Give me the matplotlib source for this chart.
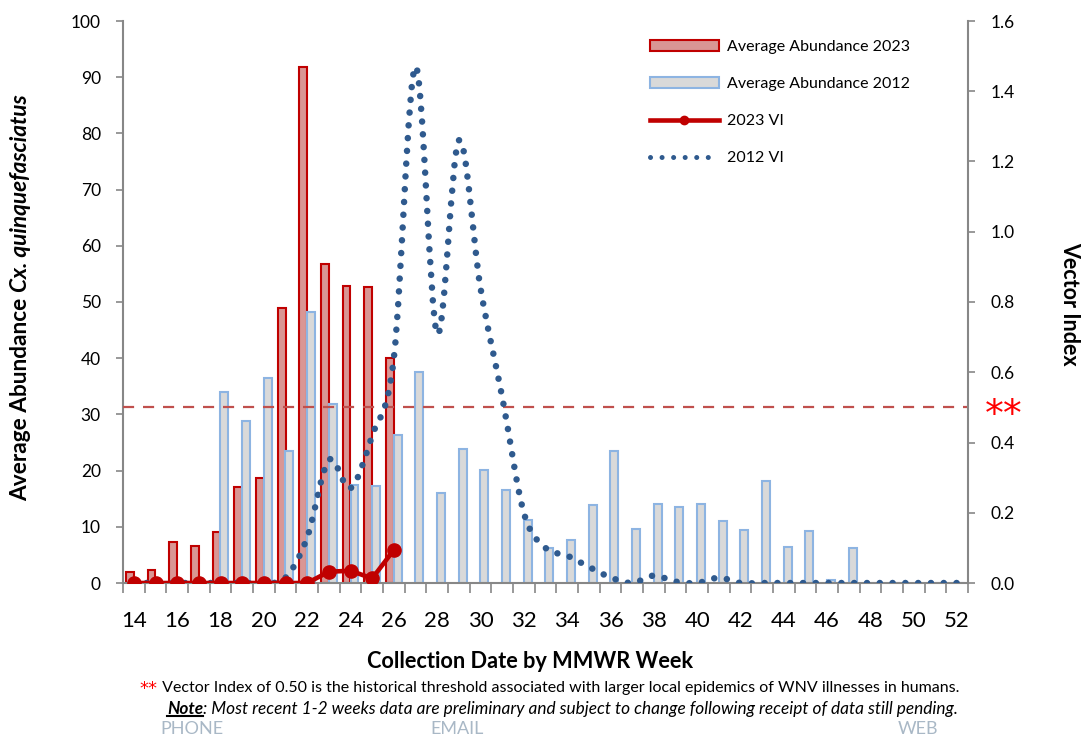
import numpy as np
import matplotlib
matplotlib.use("Agg")
import matplotlib.pyplot as plt
from matplotlib.path import Path
from matplotlib.patches import PathPatch, Patch
from matplotlib.lines import Line2D

plt.rcParams['font.family'] = ['Lato', 'DejaVu Sans']

# ---- data ----
weeks = list(range(14, 53))
weeks_2023 = list(range(14, 27))

abund_2023 = [2.0, 2.4, 7.3, 6.5, 9.0, 17.1, 18.7, 48.9, 91.8, 56.7, 52.8, 52.6, 40.1]

abund_2012 = [0, 0, 0, 0, 33.9, 28.9, 36.4, 23.4, 48.3, 31.8, 17.4, 17.3, 26.3,
              37.5, 16.0, 23.9, 20.1, 16.5, 11.2, 6.2, 7.7, 13.8, 23.5, 9.6, 14.0,
              13.6, 14.1, 11.1, 9.4, 18.2, 6.4, 9.3, 0.5, 6.3, 0, 0, 0, 0, 0]

vi_2023 = [0, 0, 0, 0, 0, 0, 0, 0, 0, 0.032, 0.035, 0.013, 0.094]

vi_2012 = [0, 0, 0, 0, 0, 0, 0, 0.015, 0.13, 0.35, 0.27, 0.42, 0.64,
           1.47, 0.71, 1.26, 0.84, 0.53, 0.20, 0.10, 0.078, 0.046, 0.016, 0.0, 0.021,
           0.004, 0.0, 0.015, 0.0, 0, 0, 0, 0, 0, 0, 0, 0, 0, 0]

threshold = 0.50
even_weeks = list(range(14, 53, 2))

RED = '#C00000'
RED_FILL = '#D99694'
BLUE_EDGE = '#8DB4E2'
GREY_FILL = '#D9D9D9'
DOT_BLUE = '#2F5A8E'
AXIS_GREY = '#878787'


def smooth_path(x, y, k=1.0 / 6):
    # Excel style "smoothed line": cubic bezier segments through the points
    n = len(x)
    verts = [(x[0], y[0])]
    codes = [Path.MOVETO]
    for i in range(n - 1):
        xp, yp = x[max(i - 1, 0)], y[max(i - 1, 0)]
        xn, yn = x[min(i + 2, n - 1)], y[min(i + 2, n - 1)]
        c1 = (x[i] + (x[i + 1] - xp) * k, y[i] + (y[i + 1] - yp) * k)
        c2 = (x[i + 1] - (xn - x[i]) * k, y[i + 1] - (yn - y[i]) * k)
        verts += [c1, c2, (x[i + 1], y[i + 1])]
        codes += [Path.CURVE4] * 3
    return Path(verts, codes)


fig = plt.figure(figsize=(10.84, 7.37), dpi=100)
ax = fig.add_axes([123 / 1084, 1 - 583 / 737, (968 - 123) / 1084, (583 - 21) / 737])
ax2 = ax.twinx()

bw = 0.36
x23 = np.array(weeks_2023, dtype=float)
x12 = np.array(weeks, dtype=float)
ax.bar(x23 - bw / 2, abund_2023, width=bw, color=RED_FILL, edgecolor=RED, linewidth=1.5, zorder=2)
ax.bar(x12 + bw / 2, abund_2012, width=bw, color=GREY_FILL, edgecolor=BLUE_EDGE, linewidth=1.5, zorder=2)

ax.set_xlim(13.5, 52.5)
ax.set_ylim(0, 100)
ax2.set_ylim(0, 1.6)

# 2012 VI dotted smooth curve
patch = PathPatch(smooth_path(x12, vi_2012), fill=False, edgecolor=DOT_BLUE,
                  linewidth=4.7, linestyle=(0, (0.01, 1.95)), capstyle='round', zorder=3)
ax2.add_patch(patch)

# threshold
ax2.axhline(threshold, color='#C0504D', linewidth=1.6, dashes=(5, 4), zorder=2)

# 2023 VI
ax2.plot(x23, vi_2023, color=RED, linewidth=3.3, marker='o', markersize=9.5,
         solid_capstyle='round', zorder=4)

# axes styling
for a in (ax, ax2):
    a.spines['top'].set_visible(False)
ax.spines['right'].set_visible(False)
ax2.spines['left'].set_visible(False)
ax2.spines['bottom'].set_visible(False)
for s in ('left', 'bottom'):
    ax.spines[s].set_color(AXIS_GREY)
    ax.spines[s].set_linewidth(1.5)
ax2.spines['right'].set_color(AXIS_GREY)
ax2.spines['right'].set_linewidth(1.5)

ax.set_yticks(np.arange(0, 101, 10))
ax.tick_params(axis='y', direction='out', length=5, width=1.2, color=AXIS_GREY,
               labelsize=12.5, pad=11)
ax2.set_yticks(np.arange(0, 1.61, 0.2))
ax2.set_yticklabels([f"{v:.1f}" for v in np.arange(0, 1.61, 0.2)])
ax2.tick_params(axis='y', direction='out', length=5, width=1.2, color=AXIS_GREY,
                labelsize=12.5, pad=11)

ax.set_xticks(even_weeks)
ax.set_xticklabels([str(w) for w in even_weeks])
ax.set_xticks(np.arange(13.5, 53, 1), minor=True)
ax.tick_params(axis='x', which='major', length=0, labelsize=16, pad=20)
ax.tick_params(axis='x', which='minor', direction='out', length=7, width=1.2, color=AXIS_GREY)

# legend
handles = [
    Patch(facecolor=RED_FILL, edgecolor=RED, linewidth=1.5),
    Patch(facecolor=GREY_FILL, edgecolor=BLUE_EDGE, linewidth=1.5),
    Line2D([], [], color=RED, linewidth=3.3, marker='o', markersize=6),
    Line2D([], [], color=DOT_BLUE, linewidth=3.6, linestyle=(0, (0.01, 2.3)),
           dash_capstyle='round'),
]
labels = ['Average Abundance 2023', 'Average Abundance 2012', '2023 VI', '2012 VI']
ax2.legend(handles, labels, loc='upper left', bbox_to_anchor=(650 / 1084, 1 - 40 / 737),
           bbox_transform=fig.transFigure, frameon=False, fontsize=11.5,
           handlelength=4.3, handleheight=0.65, labelspacing=1.45, handletextpad=0.5,
           borderaxespad=0, borderpad=0)

# '**' next to threshold on right axis
fig.text(1004 / 1084, 1 - 416 / 737, '**', color='#FF0000', fontsize=27,
         family='DejaVu Sans', ha='center', va='center')

# axis titles
fig.text(1070 / 1084, 1 - 304 / 737, 'Vector Index', rotation=270, fontsize=15.5,
         fontweight='bold', ha='center', va='center')
fig.text(530 / 1084, 1 - 662 / 737, 'Collection Date by MMWR Week', fontsize=15.7,
         fontweight='bold', ha='center', va='center')

fig.canvas.draw()
r = fig.canvas.get_renderer()
inv = fig.transFigure.inverted()

t1 = fig.text(21 / 1084, 1 - 501 / 737, 'Average Abundance ', rotation=90, fontsize=16.3,
              fontweight='bold', ha='center', va='bottom')
bb = t1.get_window_extent(r)
top_y = inv.transform((0, bb.y1))[1]
fig.text(21 / 1084, top_y, 'Cx. quinquefasciatus', rotation=90, fontsize=16.3,
         fontweight='bold', style='italic', ha='center', va='bottom')

# footnotes
fig.text(139 / 1084, 1 - 689 / 737, '**', color='#FF0000', fontsize=13,
         family='DejaVu Sans', va='center')
fig.text(158 / 1084, 1 - 688 / 737,
         ' Vector Index of 0.50 is the historical threshold associated with larger local '
         'epidemics of WNV illnesses in humans.', fontsize=11.5, va='center')
n1 = fig.text(167 / 1084, 1 - 709 / 737, 'Note', fontsize=12.4, fontweight='bold',
              style='italic', va='center')
nb = n1.get_window_extent(r)
nx1 = inv.transform((nb.x1, 0))[0]
fig.text(nx1, 1 - 709 / 737,
         ': Most recent 1-2 weeks data are preliminary and subject to change following '
         'receipt of data still pending.', fontsize=12.4, style='italic', va='center')
ux0, uy = inv.transform((nb.x0, nb.y0))
fig.add_artist(Line2D([ux0, nx1], [uy + 0.002, uy + 0.002], transform=fig.transFigure,
                      color='black', linewidth=1.5))

for label, xp in (('PHONE', 192), ('EMAIL', 457), ('WEB', 918)):
    fig.text(xp / 1084, 1 - 729 / 737, label, color='#A9B8C6', fontsize=13,
             ha='center', va='center')

fig.savefig('out.png', dpi=100)
